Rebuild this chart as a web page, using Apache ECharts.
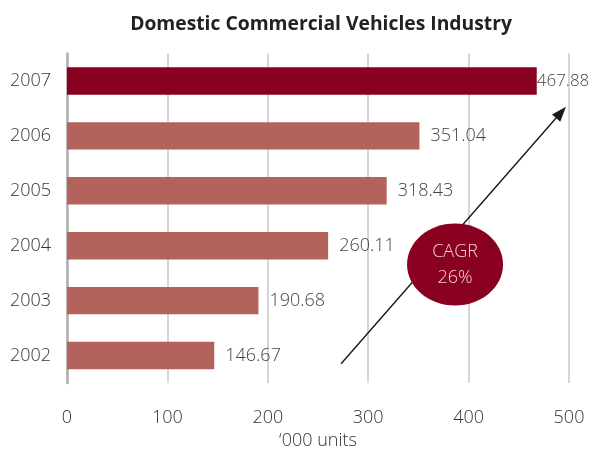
<!DOCTYPE html>
<html>
<head>
<meta charset="utf-8">
<script src="https://cdn.jsdelivr.net/npm/echarts@6/dist/echarts.min.js"></script>
<style>
  html, body { margin: 0; padding: 0; background: #fff; }
  #chart { width: 590px; height: 457px; }
</style>
</head>
<body>
<div id="chart"></div>
<script>
// Domestic commercial vehicle sales, '000 units
const years = ['2002', '2003', '2004', '2005', '2006', '2007'];
const units = [146.67, 190.68, 260.11, 318.43, 351.04, 467.88];
const xTicks = [0, 100, 200, 300, 400, 500];
const highlightYear = '2007';
const cagrLines = ['CAGR', '26%'];

// Growth arrow and bubble, in data space: [units, year index]
const arrowFrom = [273, -0.15];
const arrowTo = [497, 4.53];
const bubbleAt = [386.5, 1.66];

const FONT = '"Open Sans", "Noto Sans", sans-serif';
const DARK = '#8a0021';
const LIGHT = '#b4625c';

const chart = echarts.init(document.getElementById('chart'), null, { renderer: 'canvas' });

chart.setOption({
  animation: false,
  backgroundColor: '#ffffff',
  title: {
    text: 'Domestic Commercial Vehicles Industry',
    left: 316,
    textAlign: 'center',
    top: 10,
    textStyle: { fontFamily: FONT, fontSize: 19.3, fontWeight: 'bold', color: '#222' }
  },
  grid: { left: 67, right: 21, top: 53.5, bottom: 74, containLabel: false },
  xAxis: {
    type: 'value',
    min: xTicks[0],
    max: xTicks[xTicks.length - 1],
    interval: xTicks[1] - xTicks[0],
    name: '\u2018000 units',
    nameLocation: 'middle',
    nameGap: 48,
    nameTextStyle: { fontFamily: FONT, fontSize: 18, fontWeight: 300, color: '#333' },
    axisLine: { show: false },
    axisTick: { show: false },
    axisLabel: { margin: 26, fontFamily: FONT, fontSize: 18, fontWeight: 300, color: '#333' },
    splitLine: { show: true, lineStyle: { color: '#c8c8c8', width: 1.5 } }
  },
  yAxis: {
    type: 'category',
    data: years,
    axisLine: { show: true, lineStyle: { color: '#b0b0b0', width: 2.5 } },
    axisTick: { show: false },
    axisLabel: { margin: 16, fontFamily: FONT, fontSize: 18, fontWeight: 300, color: '#333' }
  },
  series: [{
    type: 'bar',
    // the longest bar sits against the right edge, so its label hugs the bar end
    data: units.map((v, i) => years[i] === highlightYear
      ? { value: v, label: { distance: 0, fontSize: 17 } }
      : v),
    barWidth: '50%',
    itemStyle: {
      color: p => (years[p.dataIndex] === highlightYear ? DARK : LIGHT)
    },
    label: {
      show: true,
      position: 'right',
      distance: 11,
      fontFamily: FONT,
      fontSize: 18,
      fontWeight: 300,
      color: '#444',
      formatter: p => p.value.toFixed(2)
    }
  }]
});

// Map [units, fractional year index] to pixels through the chart's axes
function toPx(pt) {
  const x = chart.convertToPixel({ xAxisIndex: 0 }, pt[0]);
  const base = chart.convertToPixel({ yAxisIndex: 0 }, 0);
  const step = chart.convertToPixel({ yAxisIndex: 0 }, 1) - base;
  return [x, base + step * pt[1]];
}

const a = toPx(arrowFrom);
const b = toPx(arrowTo);
const ang = Math.atan2(b[1] - a[1], b[0] - a[0]);
const headLen = 15, headHalf = 5.5;
const back = [b[0] - headLen * Math.cos(ang), b[1] - headLen * Math.sin(ang)];
const nx = -Math.sin(ang), ny = Math.cos(ang);
const c = toPx(bubbleAt);

chart.setOption({
  graphic: [
    {
      type: 'line',
      z: 10,
      shape: { x1: a[0], y1: a[1], x2: back[0], y2: back[1] },
      style: { stroke: '#1a1a1a', lineWidth: 1.4 }
    },
    {
      type: 'polygon',
      z: 10,
      shape: {
        points: [
          b,
          [back[0] + nx * headHalf, back[1] + ny * headHalf],
          [back[0] - nx * headHalf, back[1] - ny * headHalf]
        ]
      },
      style: { fill: '#1a1a1a' }
    },
    {
      type: 'ellipse',
      z: 11,
      shape: { cx: c[0], cy: c[1], rx: 48, ry: 41 },
      style: { fill: DARK }
    },
    {
      type: 'text',
      z: 12,
      x: c[0],
      y: c[1],
      style: {
        text: cagrLines.join('\n'),
        x: 0,
        y: 0,
        align: 'center',
        verticalAlign: 'middle',
        lineHeight: 26,
        fontFamily: FONT,
        fontSize: 18,
        fontWeight: 300,
        fill: '#f3d3da'
      }
    }
  ]
});
</script>
</body>
</html>
